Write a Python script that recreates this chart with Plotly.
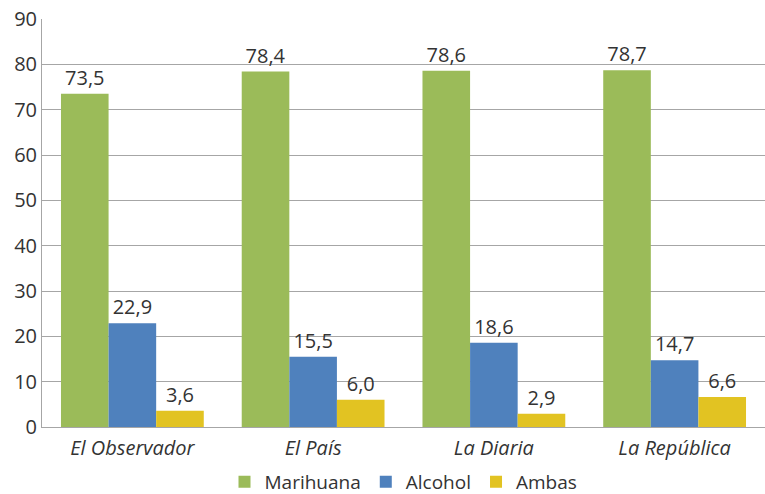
import plotly.graph_objects as go

periodicos = ["El Observador", "El País", "La Diaria", "La República"]
marihuana = [73.5, 78.4, 78.6, 78.7]
alcohol = [22.9, 15.5, 18.6, 14.7]
ambas = [3.6, 6.0, 2.9, 6.6]

series = [
    ("Marihuana", marihuana, "#9BBB59"),
    ("Alcohol", alcohol, "#4F81BD"),
    ("Ambas", ambas, "#E2C322"),
]


def fmt(v):
    return f"{v:.1f}".replace(".", ",")


FONT = "Open Sans, Noto Sans, sans-serif"

fig = go.Figure()
for name, vals, color in series:
    fig.add_trace(go.Bar(
        name=name,
        x=periodicos,
        y=vals,
        marker_color=color,
        marker_line_width=0,
        text=[fmt(v) for v in vals],
        textposition="outside",
        textfont=dict(size=20, color="#333333", family=FONT),
        cliponaxis=False,
    ))

fig.update_layout(
    width=765,
    height=494,
    barmode="group",
    bargap=0.21,
    bargroupgap=0,
    plot_bgcolor="white",
    paper_bgcolor="white",
    margin=dict(l=42, r=0, t=19, b=67, autoexpand=False),
    font=dict(family=FONT, size=19, color="#333333"),
    showlegend=True,
    legend=dict(
        orientation="h",
        x=0.5,
        xanchor="center",
        y=-0.088,
        yanchor="top",
        font=dict(size=19),
        itemwidth=30,
        borderwidth=0,
    ),
)
fig.update_yaxes(
    range=[0, 90],
    dtick=10,
    showgrid=True,
    gridcolor="#A6A6A6",
    gridwidth=1,
    showline=True,
    linecolor="#A6A6A6",
    ticks="",
    zeroline=False,
    tickfont=dict(size=20),
    automargin=False,
)
fig.update_xaxes(
    showline=True,
    linecolor="#A6A6A6",
    ticks="",
    tickvals=periodicos,
    ticktext=[f"<i>{p}</i>" for p in periodicos],
    tickfont=dict(size=20),
    ticklabelstandoff=3,
    automargin=False,
)

# page body has a default 8px margin, drop it so the chart fills the window
fig.write_html(
    "out.html",
    config={"displayModeBar": False},
    post_script="document.body.style.margin='0';",
)
